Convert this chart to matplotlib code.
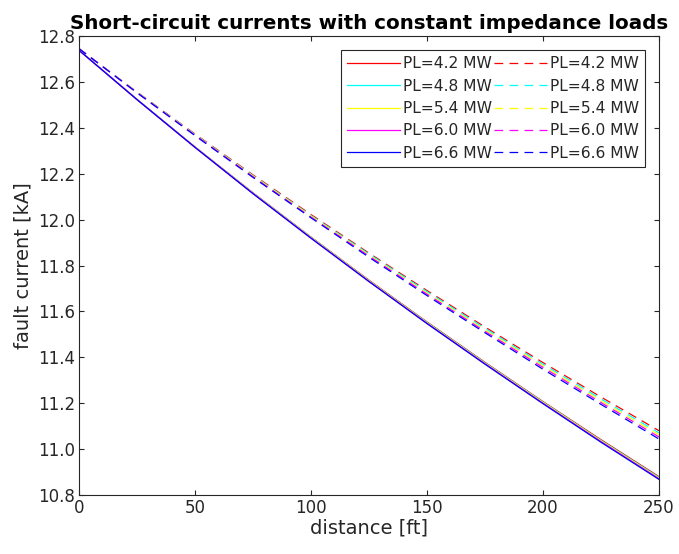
import numpy as np
import matplotlib.pyplot as plt

# distance along the feeder [ft]
distance = [0, 25, 50, 75, 100, 125, 150, 175, 200, 225, 250]

loads = ["PL=4.2 MW", "PL=4.8 MW", "PL=5.4 MW", "PL=6.0 MW", "PL=6.6 MW"]
colors = ["red", "cyan", "yellow", "magenta", "blue"]

# fault current [kA], solid set
solid_42 = [12.738, 12.524, 12.317, 12.117, 11.924, 11.736, 11.554, 11.378, 11.207, 11.041, 10.880]
solid_48 = [12.738, 12.524, 12.316, 12.116, 11.923, 11.734, 11.552, 11.376, 11.205, 11.038, 10.877]
solid_54 = [12.738, 12.523, 12.316, 12.115, 11.922, 11.733, 11.550, 11.374, 11.203, 11.036, 10.874]
solid_60 = [12.738, 12.523, 12.315, 12.114, 11.920, 11.731, 11.548, 11.372, 11.200, 11.033, 10.871]
solid_66 = [12.738, 12.523, 12.315, 12.113, 11.919, 11.730, 11.547, 11.370, 11.198, 11.030, 10.868]

# fault current [kA], dashed set
dash_42 = [12.745, 12.556, 12.373, 12.195, 12.022, 11.854, 11.691, 11.532, 11.377, 11.227, 11.080]
dash_48 = [12.745, 12.555, 12.371, 12.192, 12.018, 11.850, 11.686, 11.526, 11.370, 11.219, 11.071]
dash_54 = [12.745, 12.554, 12.369, 12.190, 12.015, 11.845, 11.680, 11.519, 11.363, 11.211, 11.062]
dash_60 = [12.745, 12.553, 12.368, 12.187, 12.011, 11.841, 11.675, 11.513, 11.356, 11.203, 11.053]
dash_66 = [12.745, 12.553, 12.366, 12.184, 12.008, 11.836, 11.669, 11.507, 11.348, 11.195, 11.044]

solid = [solid_42, solid_48, solid_54, solid_60, solid_66]
dashed = [dash_42, dash_48, dash_54, dash_60, dash_66]

xticks = [0, 50, 100, 150, 200, 250]
yticks = [10.8, 11.0, 11.2, 11.4, 11.6, 11.8, 12.0, 12.2, 12.4, 12.6, 12.8]

dark = "#262626"
plt.rcParams['font.family'] = 'DejaVu Sans'

fig = plt.figure(figsize=(6.79, 5.54), dpi=100)
ax = fig.add_axes([0.1163, 0.1065, 0.8542, 0.8285])

for y, c, lab in zip(solid, colors, loads):
    ax.plot(distance, y, color=c, lw=0.9, label=lab)
for y, c, lab in zip(dashed, colors, loads):
    ax.plot(distance, y, color=c, lw=0.9, dashes=(7, 5), label=lab)

ax.set_xlim(0, 250)
ax.set_ylim(10.8, 12.8)
ax.set_xticks(xticks)
ax.set_yticks(yticks)
ax.set_yticklabels([f"{v:.1f}" for v in yticks])
ax.tick_params(direction='in', top=True, right=True, length=3.5, width=0.8,
               labelsize=12, pad=3, colors=dark, labelcolor=dark)
for s in ax.spines.values():
    s.set_color(dark)
    s.set_linewidth(0.8)

ax.set_xlabel("distance [ft]", fontsize=14, color=dark, labelpad=1)
ax.set_ylabel("fault current [kA]", fontsize=14, color=dark, labelpad=4)
ax.set_title("Short-circuit currents with constant impedance loads",
             fontsize=14.3, fontweight='bold', pad=5)

leg = ax.legend(ncol=2, loc='upper right', bbox_to_anchor=(0.976, 0.969),
                borderaxespad=0, fontsize=11.2, handlelength=3.4,
                handletextpad=0.2, columnspacing=0.1, labelspacing=0.47,
                borderpad=0.4, frameon=True, fancybox=False, framealpha=1)
leg.get_frame().set_edgecolor(dark)
leg.get_frame().set_linewidth(0.8)
for t in leg.get_texts():
    t.set_color(dark)

fig.savefig("out.png", dpi=100)
